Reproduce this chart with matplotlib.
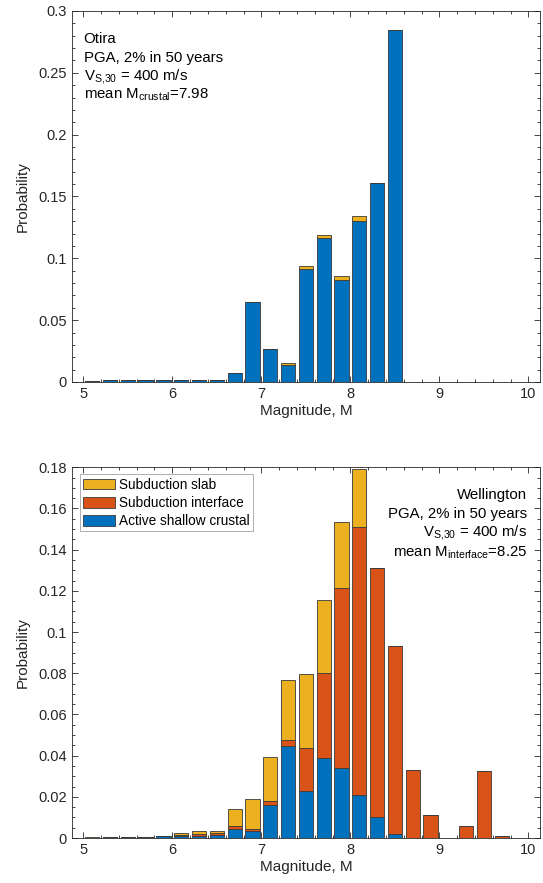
import matplotlib
matplotlib.use("Agg")
import matplotlib.pyplot as plt
from matplotlib.ticker import MultipleLocator
from matplotlib.patches import Patch
import numpy as np

plt.rcParams['font.family'] = ['Liberation Sans', 'DejaVu Sans']
plt.rcParams['mathtext.fontset'] = 'custom'
plt.rcParams['mathtext.rm'] = 'Liberation Sans'
plt.rcParams['mathtext.it'] = 'Liberation Sans'

# magnitude bin centres
mags = [5.1, 5.3, 5.5, 5.7, 5.9, 6.1, 6.3, 6.5, 6.7, 6.9, 7.1, 7.3, 7.5,
        7.7, 7.9, 8.1, 8.3, 8.5, 8.7, 8.9, 9.1, 9.3, 9.5, 9.7, 9.9]

# Otira
otira_crustal = [0.001, 0.0015, 0.0015, 0.002, 0.002, 0.002, 0.002, 0.002, 0.0076,
                 0.0643, 0.0265, 0.0141, 0.0916, 0.1165, 0.0822, 0.1303, 0.161,
                 0.2843, 0, 0, 0, 0, 0, 0, 0]
otira_interface = [0] * 25
otira_slab = [0, 0, 0, 0, 0, 0, 0, 0, 0, 0, 0, 0.0013, 0.0019, 0.0025, 0.0032,
              0.0037, 0, 0, 0, 0, 0, 0, 0, 0, 0]

# Wellington
well_crustal = [0.0002, 0.0005, 0.0006, 0.0006, 0.0008, 0.001, 0.001, 0.0013, 0.0043,
                0.0033, 0.016, 0.0448, 0.023, 0.0388, 0.0341, 0.0209, 0.0102,
                0.0019, 0, 0, 0, 0, 0, 0, 0]
well_interface = [0, 0, 0, 0, 0.0001, 0.0006, 0.0007, 0.0009, 0.0015, 0.0013, 0.0021,
                  0.0028, 0.0207, 0.0413, 0.0874, 0.1301, 0.1207, 0.0915, 0.033,
                  0.011, 0.0002, 0.0057, 0.0325, 0.001, 0]
well_slab = [0.0001, 0, 0, 0, 0.0002, 0.0006, 0.0016, 0.0011, 0.0084, 0.0143, 0.0214,
             0.0291, 0.0359, 0.0354, 0.0319, 0.0283, 0, 0, 0, 0, 0, 0, 0, 0, 0]

c_crustal = '#0072BD'
c_interface = '#D95319'
c_slab = '#EDB120'
txt_col = '#262626'
fs = 10.5
fs_txt = 10.8

W, H = 543, 883
fig = plt.figure(figsize=(W / 100, H / 100), dpi=100)


def px_axes(left, top, right, bottom):
    return fig.add_axes([left / W, 1 - bottom / H, (right - left) / W, (bottom - top) / H])


def stacked(ax, crustal, interface, slab):
    crustal = np.array(crustal)
    interface = np.array(interface)
    slab = np.array(slab)
    kw = dict(width=0.16, edgecolor='#3a3a3a', linewidth=0.6)
    ax.bar(mags, crustal, color=c_crustal, **kw)
    ax.bar(mags, interface, bottom=crustal, color=c_interface, **kw)
    ax.bar(mags, slab, bottom=crustal + interface, color=c_slab, **kw)


def style(ax, ymax, ymajor, yminor):
    ax.set_xlim(4.87, 10.13)
    ax.set_ylim(0, ymax)
    ax.xaxis.set_major_locator(MultipleLocator(1))
    ax.xaxis.set_minor_locator(MultipleLocator(0.2))
    ax.yaxis.set_major_locator(MultipleLocator(ymajor))
    ax.yaxis.set_minor_locator(MultipleLocator(yminor))
    ax.tick_params(which='both', direction='in', top=True, right=True,
                   colors=txt_col, labelsize=fs, width=0.6)
    ax.tick_params(which='major', length=4.5)
    ax.tick_params(which='minor', length=2.3)
    for s in ax.spines.values():
        s.set_color(txt_col)
        s.set_linewidth(0.6)
    ax.set_xlabel('Magnitude, M', fontsize=fs + 0.5, color=txt_col, labelpad=2)
    ax.set_ylabel('Probability', fontsize=fs + 0.5, color=txt_col, labelpad=6)


ax1 = px_axes(71.7, 11, 540, 382)
stacked(ax1, otira_crustal, otira_interface, otira_slab)
style(ax1, 0.3, 0.05, 0.01)
ax1.set_yticks([0, 0.05, 0.1, 0.15, 0.2, 0.25, 0.3])
ax1.set_yticklabels(['0', '0.05', '0.1', '0.15', '0.2', '0.25', '0.3'])

vs30 = r'$\mathregular{V_{S{,}30}}$ = 400 m/s'
tx = 12 / (540 - 71.7)
lines1 = ['Otira', 'PGA, 2% in 50 years', vs30, r'mean $\mathregular{M_{crustal}}$=7.98']
ys1 = [39, 58, 76, 95]
for s, y in zip(lines1, ys1):
    ax1.text(tx, 1 - (y - 11) / 371, s, transform=ax1.transAxes, fontsize=fs_txt,
             color='black', va='center', ha='left')

ax2 = px_axes(71.7, 467.3, 540, 838)
stacked(ax2, well_crustal, well_interface, well_slab)
style(ax2, 0.18, 0.02, 0.005)
ax2.set_yticks(np.arange(0, 0.181, 0.02))
ax2.set_yticklabels(['0', '0.02', '0.04', '0.06', '0.08', '0.1', '0.12', '0.14',
                     '0.16', '0.18'])

lines2 = ['Wellington', 'PGA, 2% in 50 years', vs30, r'mean $\mathregular{M_{interface}}$=8.25']
ys2 = [495, 514, 532, 553]
for s, y in zip(lines2, ys2):
    ax2.text((527 - 71.7) / (540 - 71.7), 1 - (y - 467.3) / 370.7, s,
             transform=ax2.transAxes, fontsize=fs_txt, color='black', va='center', ha='right')

handles = [Patch(facecolor=c_slab, edgecolor='#3a3a3a', linewidth=0.6, label='Subduction slab'),
           Patch(facecolor=c_interface, edgecolor='#3a3a3a', linewidth=0.6, label='Subduction interface'),
           Patch(facecolor=c_crustal, edgecolor='#3a3a3a', linewidth=0.6, label='Active shallow crustal')]
leg = ax2.legend(handles=handles, loc='upper left', bbox_to_anchor=(8 / 468.3, 1 - 7 / 370.7),
                 fontsize=9.8, frameon=True, fancybox=False, borderpad=0.25,
                 handlelength=2.35, handleheight=0.86, handletextpad=0.3, labelspacing=0.3,
                 borderaxespad=0)
leg.get_frame().set_edgecolor('#8a8a8a')
leg.get_frame().set_linewidth(0.6)

fig.savefig('out.png', dpi=100)
